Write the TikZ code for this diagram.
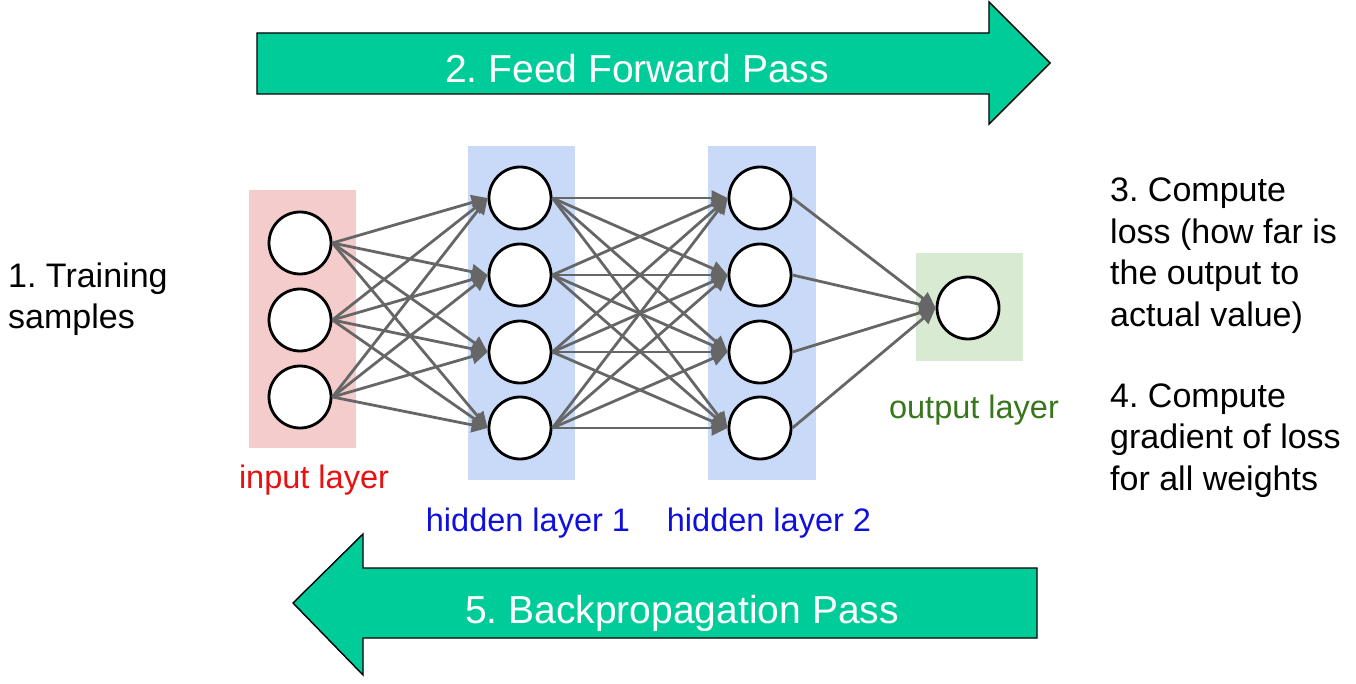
\documentclass[tikz,border=0pt]{standalone}
\usepackage{fontspec}
\setmainfont{Liberation Sans}
\frenchspacing
\usetikzlibrary{arrows.meta}
\definecolor{passgreen}{RGB}{0,204,153}
\definecolor{inbg}{RGB}{244,204,204}
\definecolor{hidbg}{RGB}{201,218,248}
\definecolor{outbg}{RGB}{217,234,211}
\definecolor{edgegray}{RGB}{102,102,102}
\definecolor{inred}{RGB}{232,16,16}
\definecolor{hidblue}{RGB}{16,16,222}
\definecolor{outgreen}{RGB}{56,118,29}
\tikzset{
  neuron/.style={circle,draw=black,line width=2.8pt,fill=white,minimum size=62pt,inner sep=0pt},
  wire/.style={draw=edgegray,line width=2.8pt,-{Triangle[length=16pt,width=15pt]}},
  pass/.style={fill=passgreen,draw=black,line width=1.4pt,line join=miter},
  passtext/.style={text=white,font=\fontsize{39}{39}\selectfont,anchor=base,inner sep=0pt},
  layertext/.style={font=\fontsize{32.5}{32.5}\selectfont,anchor=base,inner sep=0pt},
  sidetext/.style={font=\fontsize{34}{41.5}\selectfont,align=left,anchor=base west,inner sep=0pt}
}
\begin{document}
\begin{tikzpicture}[x=1pt,y=-1pt]
\useasboundingbox (0,0) rectangle (1356,684);
\draw[pass] (257,33) -- (989,33) -- (989,2) -- (1050,63) -- (989,124) -- (989,94) -- (257,94) -- cycle;
\node[passtext] (fwd) at (637,83) {2. Feed Forward Pass};
\draw[pass] (1037,568) -- (363,568) -- (363,534) -- (293,603) -- (363,675) -- (363,638) -- (1037,638) -- cycle;
\node[passtext] (back) at (682,623) {5. Backpropagation Pass};
\fill[inbg] (249,190) rectangle (356,448);
\fill[hidbg] (468,146) rectangle (575,480);
\fill[hidbg] (708,146) rectangle (816,480);
\fill[outbg] (916,253) rectangle (1023,361);
\foreach \i/\y in {1/243,2/320,3/397}
  \node[neuron] (in\i) at (300,\y) {};
\foreach \i/\y in {1/198,2/275,3/352,4/428} {
  \node[neuron] (hA\i) at (520,\y) {};
  \node[neuron] (hB\i) at (760,\y) {};
}
\node[neuron] (out) at (968,308) {};
\foreach \i in {1,2,3}
  \foreach \j in {1,2,3,4}
    \draw[wire] (in\i.east) -- (hA\j.west);
\foreach \i in {1,2,3,4}
  \foreach \j in {1,2,3,4}
    \draw[wire] (hA\i.east) -- (hB\j.west);
\foreach \i in {1,2,3,4}
  \draw[wire] (hB\i.east) -- (out.west);
\node[layertext,text=inred] (inlab) at (314,488) {input layer};
\node[layertext,text=hidblue] (hAlab) at (528,531) {hidden layer 1};
\node[layertext,text=hidblue] (hBlab) at (769,531) {hidden layer 2};
\node[layertext,text=outgreen] (outlab) at (974,418) {output layer};
\node[sidetext] (train) at (8,328.5) {1. Training\\samples};
\node[sidetext] (loss) at (1110,326.5) {3. Compute\\loss (how far is\\the output to\\actual value)};
\node[sidetext] (grad) at (1110,490) {4. Compute\\gradient of loss\\for all weights};
\end{tikzpicture}
\end{document}
